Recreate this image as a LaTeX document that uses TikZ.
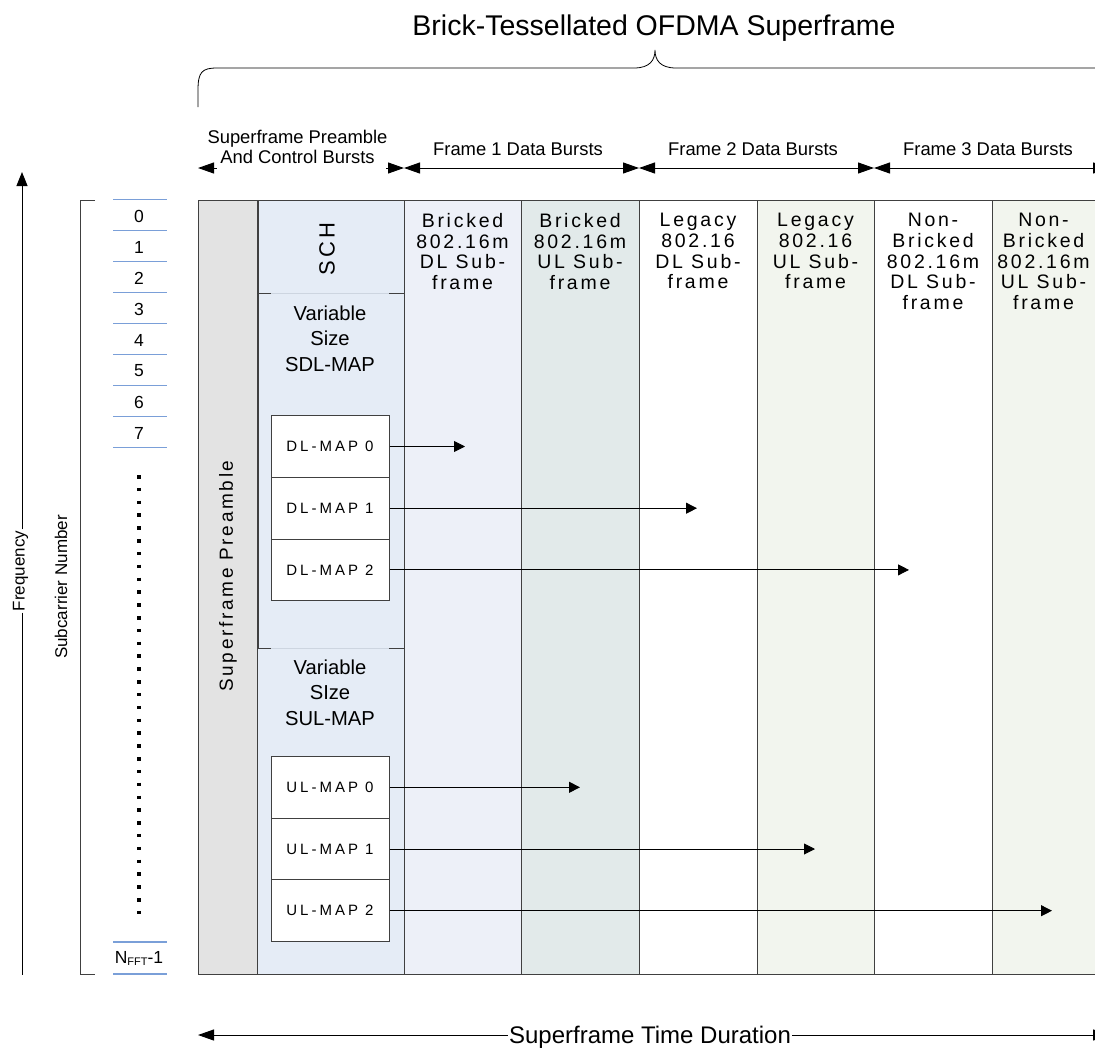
\documentclass[tikz,border=0pt]{standalone}
\usepackage{fontspec}
\setmainfont{Liberation Sans}
\newfontfamily\wideA[LetterSpace=14]{Liberation Sans}
\newfontfamily\wideB[LetterSpace=20]{Liberation Sans}
\usetikzlibrary{arrows.meta,positioning,calc}
\definecolor{preGray}{HTML}{E3E3E3}
\definecolor{ctlBlue}{HTML}{E5ECF6}
\definecolor{dlBlue}{HTML}{EDF0F8}
\definecolor{ulTeal}{HTML}{E2EAEA}
\definecolor{ulGreen}{HTML}{F2F5EE}
\definecolor{scBlue}{HTML}{7A9FD8}
\definecolor{rule}{HTML}{404040}
\definecolor{paleRule}{HTML}{CDD5E0}

\begin{document}
\begin{tikzpicture}[x=1pt,y=-1pt,line width=1pt,
  every node/.style={inner sep=1pt},
  >={Triangle[length=16pt,width=11pt]},
  hdr/.style={font=\fontsize{18.4}{20}\selectfont},
  sublbl/.style={font=\wideA\fontsize{19.5}{20.6}\selectfont,align=center,anchor=north,inner sep=0pt},
  varlbl/.style={font=\fontsize{20.2}{25.8}\selectfont,align=center,anchor=north,inner sep=0pt},
  mapbox/.style={draw=rule,fill=white,minimum width=118pt,minimum height=61.7pt,inner sep=0pt,
    font=\wideB\fontsize{15}{16}\selectfont},
  mapto/.style={draw=black,line width=0.9pt,-{Triangle[length=11pt,width=11pt]}},
  scline/.style={scBlue,line width=1.2pt},
  scnum/.style={font=\fontsize{17.5}{18}\selectfont},
  side/.style={font=\fontsize{17}{18}\selectfont,rotate=90}]
\useasboundingbox (0,0) rectangle (1095,1047);
% --- title and brace ---
\node[font=\fontsize{28.5}{30}\selectfont,anchor=base] (title) at (654,35.5) {Brick-Tessellated OFDMA Superframe};
\draw[line width=0.8pt] (198,107) -- (198,90) .. controls (198,72) and (202,68) .. (217,68) -- (634,68)
  .. controls (650,68) and (655,60) .. (655,50) .. controls (655,60) and (660,68) .. (676,68) -- (1110,68);
% --- spans above the frame ---
\coordinate (t0) at (198,168);
\coordinate (t1) at (404,168);
\coordinate (t2) at (639,168);
\coordinate (t3) at (874,168);
\coordinate (t4) at (1109,168);
\node[hdr,anchor=base] (pcA) at (297.5,143) {Superframe Preamble};
\node[hdr,anchor=base] (pcB) at (297.5,163) {And Control Bursts};
\coordinate (pcL) at (217,168);
\coordinate (pcR) at (386,168);
\draw[<-] (t0) -- (pcL);
\draw[->] (pcR) -- (t1);
\draw[<->] (t1) -- (t2);
\draw[<->] (t2) -- (t3);
\draw[<->] (t3) -- (t4);
\foreach \x/\n in {518/1,753/2,988/3}
  \node[hdr,anchor=base] (fr\n) at (\x,155) {Frame \n\ Data Bursts};
% --- frame columns ---
\fill[preGray] (198,200) rectangle (257,974);
\fill[ctlBlue] (257,200) rectangle (404,974);
\foreach \xa/\xb/\c in {404/521/dlBlue,521/639/ulTeal,639/757/white,757/874/ulGreen,874/992/white,992/1110/ulGreen}
  \fill[\c] (\xa,200) rectangle (\xb,974);
\foreach \xa in {404,521,639,757,874,992}
  \draw[rule] (\xa,200) -- (\xa,974);
\draw[rule] (257,200) -- (257,974);
\draw[rule,line width=1.8pt] (258,200) -- (258,648);
\draw[rule] (198,200) rectangle (1110,974);
\foreach \x/\n/\t in {462.5/1/{Bricked\\802.16m\\DL Sub-\\frame},
                      580/2/{Bricked\\802.16m\\UL Sub-\\frame},
                      698/3/{Legacy\\802.16\\DL Sub-\\frame},
                      815.5/4/{Legacy\\802.16\\UL Sub-\\frame},
                      933/5/{Non-\\Bricked\\802.16m\\DL Sub-\\frame},
                      1043.5/6/{Non-\\Bricked\\802.16m\\UL Sub-\\frame}}
  \node[sublbl] (sf\n) at (\x,213) {\t};
\node[font=\wideA\fontsize{19}{20}\selectfont,rotate=90] (pre) at (228,576) {Superframe Preamble};
% --- control bursts ---
\node[font=\wideA\fontsize{22}{24}\selectfont,rotate=90] (sch) at (327,249) {SCH};
\foreach \yy in {293,648} {
  \draw[paleRule] (259,\yy) -- (404,\yy);
  \draw[rule] (258,\yy) -- (271,\yy);
  \draw[rule] (389,\yy) -- (404,\yy);
}
\node[varlbl] (sdl) at (330,305) {Variable\\Size\\SDL-MAP};
\node[varlbl] (sul) at (330,659) {Variable\\SIze\\SUL-MAP};
\foreach \i/\yy/\tx in {0/446.5/465,1/508.2/697,2/569.9/909} {
  \node[mapbox] (dl\i) at (330,\yy) {DL-MAP \i};
  \coordinate (dlEnd\i) at (\tx,\yy);
  \draw[mapto] (dl\i) -- (dlEnd\i);
}
\foreach \i/\yy/\tx in {0/787.3/580,1/849/815,2/910.7/1052} {
  \node[mapbox] (ul\i) at (330,\yy) {UL-MAP \i};
  \coordinate (ulEnd\i) at (\tx,\yy);
  \draw[mapto] (ul\i) -- (ulEnd\i);
}
% --- subcarrier axis ---
\foreach \i in {0,...,7}
  \node[scnum] (sc\i) at (139,{216+31*\i}) {\i};
\foreach \i in {0,...,8}
  \draw[scline] (113,{199.5+31*\i}) -- (167,{199.5+31*\i});
\draw[line width=3.5pt,dash pattern=on 3.5pt off 9.32pt] (139,475) -- (139,914.5);
\draw[scline] (113,942) -- (167,942);
\draw[scline] (113,974) -- (167,974);
\node[scnum] (scN) at (139,958) {N\raisebox{-2pt}{\fontsize{11}{12}\selectfont FFT}-1};
\draw[rule] (95,200) -- (80,200) -- (80,974) -- (95,974);
\node[side] (scTitle) at (61,587) {Subcarrier Number};
\node[side,anchor=base] (freq) at (24.5,571) {Frequency};
\coordinate (fqTop) at (22,172);
\coordinate (fqFoot) at (22,975);
\draw[-{Triangle[length=14pt,width=11pt]}] (fqTop |- freq.base east) -- (fqTop);
\draw (fqFoot |- freq.base west) -- (fqFoot);
% --- duration ---
\node[font=\fontsize{24}{26}\selectfont,anchor=base] (dur) at (650,1043) {Superframe Time Duration};
\coordinate (durL) at (198,1035);
\coordinate (durR) at (1109,1035);
\draw[->] (dur.west |- durL) -- (durL);
\draw[->] (dur.east |- durR) -- (durR);
\end{tikzpicture}
\end{document}
